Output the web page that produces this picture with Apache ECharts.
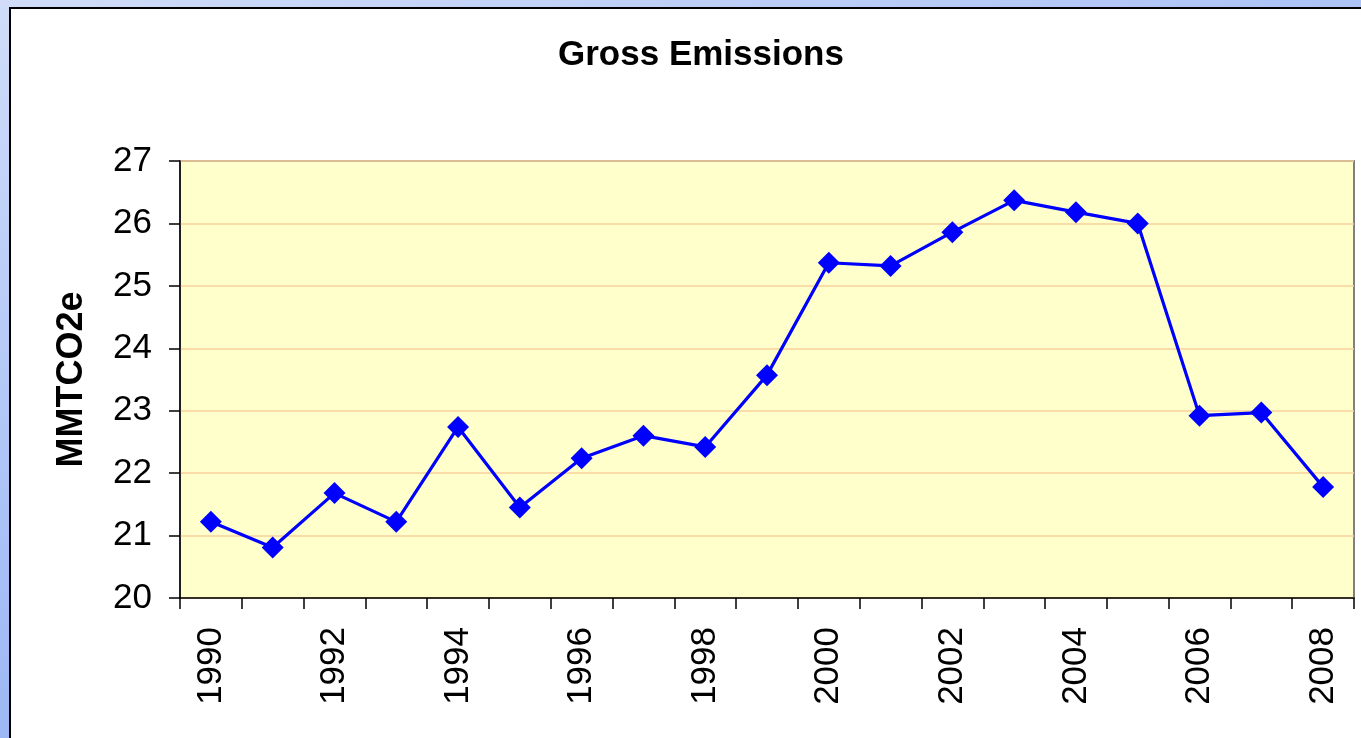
<!DOCTYPE html>
<html>
<head>
<meta charset="utf-8">
<script src="https://cdn.jsdelivr.net/npm/echarts@6/dist/echarts.min.js"></script>
<style>
 html, body { margin: 0; padding: 0; width: 1361px; height: 738px; overflow: hidden; }
 body { background: linear-gradient(160deg, #d0dcf8 0%, #a8c0f6 45%, #80a0f0 100%); position: relative; }
 #frame { position: absolute; left: 9px; top: 7px; width: 1400px; height: 800px; background: #fff; border: 2px solid #000; }
 #main { position: absolute; left: 0; top: 0; width: 1361px; height: 738px; }
</style>
</head>
<body>
<div id="frame"></div>
<div id="main"></div>
<script>
// 数据：年份与排放量
var years = ['1990','1991','1992','1993','1994','1995','1996','1997','1998','1999',
 '2000','2001','2002','2003','2004','2005','2006','2007','2008'];
var emissions = [21.22, 20.81, 21.68, 21.22, 22.74, 21.45, 22.24, 22.60, 22.42, 23.57,
 25.37, 25.32, 25.86, 26.37, 26.18, 26.00, 22.92, 22.97, 21.78];
var yTicks = [20, 21, 22, 23, 24, 25, 26, 27];

var chart = echarts.init(document.getElementById('main'), null, {
 width: 1361,
 height: 738
});

var font = 'Liberation Sans, Arial, sans-serif';

var option = {
 backgroundColor: 'transparent',
 animation: false,
 title: {
  text: 'Gross Emissions',
  left: 553,
  top: 33,
  textStyle: { fontFamily: font, fontSize: 35, fontWeight: 'bold', color: '#000' }
 },
 grid: {
  left: 180,
  top: 161,
  right: 7,
  bottom: 140,
  show: true,
  backgroundColor: '#ffffcc',
  borderColor: '#808080',
  borderWidth: 2
 },
 xAxis: {
  type: 'category',
  data: years,
  boundaryGap: true,
  axisLine: { lineStyle: { color: '#000', width: 1.5 } },
  axisTick: { show: true, interval: 0, length: 11, lineStyle: { color: '#000', width: 1.5 } },
  axisLabel: {
   interval: 1,
   rotate: 90,
   margin: 29,
   color: '#000',
   fontFamily: font,
   fontSize: 35
  }
 },
 yAxis: {
  type: 'value',
  min: yTicks[0],
  max: yTicks[yTicks.length - 1],
  interval: 1,
  name: 'MMTCO2e',
  nameLocation: 'middle',
  nameGap: 90,
  nameTextStyle: { fontFamily: font, fontSize: 36, fontWeight: 'bold', color: '#000' },
  axisLine: { show: true, lineStyle: { color: '#000', width: 1.5 } },
  axisTick: { show: true, length: 11, lineStyle: { color: '#000', width: 1.5 } },
  axisLabel: {
   margin: 28,
   color: '#000',
   fontFamily: font,
   fontSize: 35
  },
  splitLine: { show: true, lineStyle: { color: '#f8d09c', width: 1.5 } }
 },
 series: [{
  type: 'line',
  data: emissions,
  symbol: 'diamond',
  symbolSize: 22,
  lineStyle: { color: '#0000ff', width: 3.2 },
  itemStyle: { color: '#0000ff' }
 }]
};
chart.setOption(option);
</script>
</body>
</html>
